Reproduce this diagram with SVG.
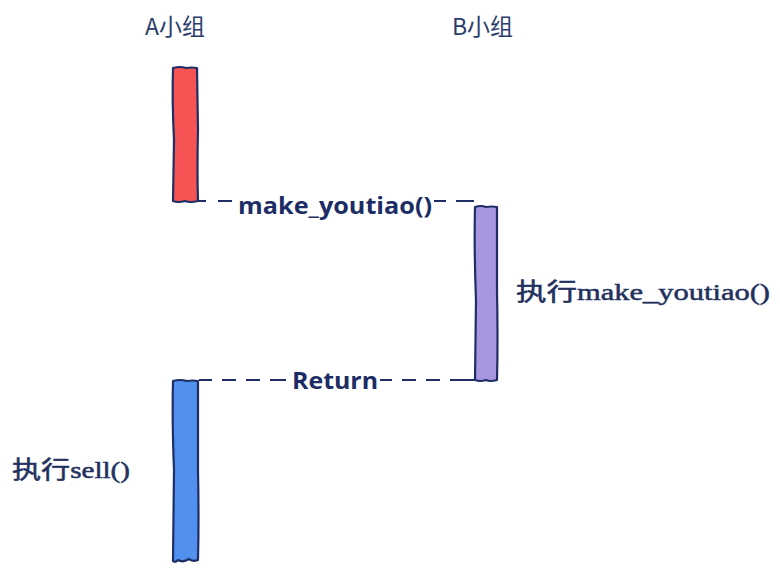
<svg xmlns="http://www.w3.org/2000/svg" width="780" height="583" viewBox="0 0 780 583">
<style>
.hdr{font-family:"Noto Sans CJK SC","Noto Sans",sans-serif;font-size:23px;fill:#2b3d6e}
.msg{font-family:"Open Sans","Noto Sans",sans-serif;font-size:23px;font-weight:bold;fill:#1c2d66}
.note{font-family:"Liberation Serif","Noto Sans CJK SC",serif;font-size:24px;font-weight:normal;fill:#22315e;stroke:#22315e;stroke-width:0.5}
.bar{stroke:#1f2f66;stroke-width:2.2;stroke-linejoin:round}
.dash{stroke:#1f2f66;stroke-width:2;fill:none}
</style>
<rect width="780" height="583" fill="#ffffff"/>
<g id="headerA"><text class="hdr" x="145" y="35">A小组</text></g>
<g id="headerB"><text class="hdr" x="452" y="35">B小组</text></g>
<g id="barA1"><path class="bar" fill="#f65454" d="M173,68 Q180,66 186,68 Q192,67 197,68 L198,130 Q197,170 198,201 Q190,203 185,201 Q178,203 173,201 L174,140 Q172,100 173,68 Z"/></g>
<g id="barB"><path class="bar" fill="#a996e1" d="M475,207 Q481,205 486,207 Q492,206 497,207 L497,290 Q498,340 497,380 Q490,382 486,380 Q480,382 475,380 L476,300 Q474,250 475,207 Z"/></g>
<g id="barA2"><path class="bar" fill="#5290f0" d="M173,381 Q180,379 187,381 Q193,380 198,381 L198,470 Q199,520 198,560 Q192,562 189,559 Q183,563 178,560 Q175,563 173,561 L174,470 Q172,420 173,381 Z"/></g>
<g id="connectors">
<path class="dash" d="M198,201 L206,201 M218,201 L232,201 M434,201 L446,201 M456,201 L474,201"/>
<path class="dash" d="M199,380 L212,380 M222,380 L236,380 M246,380 L260,380 M270,380 L286,380 M380,380 L392,380 M402,380 L416,380 M426,380 L440,380 M450,380 L474,380"/>
</g>
<g id="labels">
<text class="msg" x="238" y="214" textLength="194" lengthAdjust="spacingAndGlyphs">make_youtiao()</text>
<text class="msg" x="292" y="389" textLength="86" lengthAdjust="spacingAndGlyphs">Return</text>
<text class="note" x="516" y="300" textLength="254" lengthAdjust="spacingAndGlyphs">执行make_youtiao()</text>
<text class="note" x="12" y="478" textLength="118" lengthAdjust="spacingAndGlyphs">执行sell()</text>
</g>
</svg>
